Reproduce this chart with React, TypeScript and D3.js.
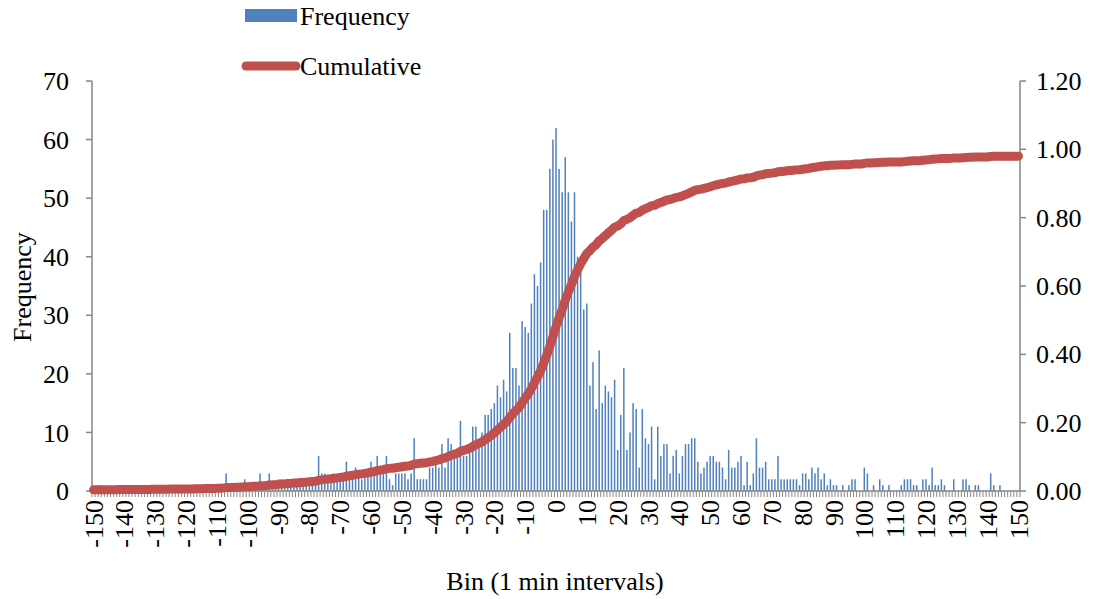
import React from 'react';
import * as d3 from 'd3';

// Category bins (1 minute intervals)
const BINS: number[] = d3.range(-150, 151);

// Frequency per bin, -150 … 150
const FREQUENCY: number[] = [
  // -150 .. -101
  0, 0, 1, 0, 0, 0, 0, 0, 1, 0,
  0, 0, 1, 0, 0, 0, 0, 0, 0, 1,
  0, 0, 0, 0, 0, 1, 0, 0, 0, 0,
  1, 0, 0, 1, 0, 0, 1, 0, 1, 0,
  1, 0, 1, 3, 0, 1, 1, 0, 1, 2,
  // -100 .. -51
  1, 1, 1, 0, 3, 1, 1, 3, 1, 1,
  2, 2, 1, 2, 1, 2, 1, 2, 1, 2,
  2, 2, 1, 6, 3, 3, 2, 2, 3, 2,
  3, 2, 5, 3, 3, 4, 3, 2, 3, 3,
  5, 3, 6, 3, 3, 6, 2, 1, 3, 3,
  // -50 .. -1
  3, 3, 2, 3, 9, 2, 2, 2, 2, 4,
  4, 5, 4, 8, 4, 9, 8, 6, 6, 12,
  6, 6, 7, 11, 11, 8, 10, 13, 13, 14,
  15, 18, 16, 19, 17, 27, 21, 21, 18, 29,
  28, 27, 32, 37, 35, 39, 48, 48, 55, 60,
  // 0 .. 49
  62, 55, 51, 57, 51, 46, 51, 40, 38, 31,
  32, 18, 22, 14, 24, 15, 18, 17, 16, 19,
  7, 13, 21, 7, 10, 15, 14, 4, 14, 9,
  8, 11, 2, 11, 6, 8, 8, 3, 6, 7,
  3, 6, 8, 8, 9, 9, 5, 3, 4, 5,
  // 50 .. 99
  6, 6, 5, 5, 4, 2, 7, 4, 4, 5,
  6, 1, 5, 1, 3, 9, 4, 4, 5, 2,
  2, 2, 6, 2, 2, 2, 2, 2, 2, 1,
  3, 3, 2, 4, 3, 4, 2, 3, 1, 2,
  1, 1, 0, 1, 0, 1, 2, 2, 0, 0,
  // 100 .. 150
  4, 3, 0, 1, 0, 2, 1, 0, 1, 0,
  0, 0, 1, 2, 2, 2, 1, 1, 0, 2,
  2, 1, 4, 1, 1, 2, 1, 0, 0, 2,
  0, 0, 2, 2, 1, 0, 1, 1, 0, 0,
  0, 3, 1, 0, 1, 0, 0, 0, 0, 0, 0,
];

// Observations below the first bin and total observation count (for cumulative share)
const COUNT_BELOW_RANGE = 7;
const TOTAL_COUNT = 2112;

const LEFT_TICKS: number[] = [0, 10, 20, 30, 40, 50, 60, 70];
const RIGHT_TICKS: number[] = [0, 0.2, 0.4, 0.6, 0.8, 1.0, 1.2];
const X_LABELS: number[] = [-150, -140, -130, -120, -110, -100, -90, -80, -70, -60, -50, -40, -30, -20, -10, 0, 10, 20, 30, 40, 50, 60, 70, 80, 90, 100, 110, 120, 130, 140, 150];

const FONT = '"Liberation Serif", "Times New Roman", serif';
const AXIS = '#868686';
const BLUE = '#4F81BD';
const RED = '#C0504D';

export default function App() {
  const W = 1097;
  const H = 599;
  const left = 92;
  const right = 1020;
  const top = 81;
  const bottom = 491;

  const x = d3.scaleBand<number>().domain(BINS).range([left, right]).padding(0);
  const cx = (b: number) => (x(b) as number) + x.bandwidth() / 2;
  const yL = d3.scaleLinear().domain([0, 70]).range([bottom, top]);
  const yR = d3.scaleLinear().domain([0, 1.2]).range([bottom, top]);

  let running = COUNT_BELOW_RANGE;
  const cumulative = FREQUENCY.map((f) => {
    running += f;
    return running / TOTAL_COUNT;
  });

  const line = d3
    .line<number>()
    .x((_, i) => cx(BINS[i]))
    .y((d) => yR(d))
    .curve(d3.curveLinear);

  const barW = 1.5;
  const boundaries = BINS.map((b) => x(b) as number).concat([right]);

  return (
    <svg
      width={W}
      height={H}
      style={{ position: 'absolute', left: 0, top: 0, background: '#fff' }}
      fontFamily={FONT}
    >
      <rect x={0} y={0} width={W} height={H} fill="#fff" />

      {/* bars */}
      <g>
        {FREQUENCY.map((f, i) =>
          f > 0 ? (
            <rect
              key={i}
              x={cx(BINS[i]) - barW / 2}
              y={yL(f)}
              width={barW}
              height={bottom - yL(f)}
              fill={BLUE}
            />
          ) : null
        )}
      </g>

      {/* axes */}
      <line x1={left} x2={left} y1={top} y2={bottom} stroke={AXIS} strokeWidth={1.5} />
      <line x1={right} x2={right} y1={top} y2={bottom} stroke={AXIS} strokeWidth={1.5} />
      {LEFT_TICKS.map((t) => (
        <g key={'l' + t}>
          <line x1={left - 6} x2={left} y1={yL(t)} y2={yL(t)} stroke={AXIS} strokeWidth={1.5} />
          <text x={69} y={yL(t)} dy="0.35em" textAnchor="end" fontSize={26} fill="#000">
            {t}
          </text>
        </g>
      ))}
      {RIGHT_TICKS.map((t) => (
        <g key={'r' + t}>
          <line x1={right} x2={right + 6} y1={yR(t)} y2={yR(t)} stroke={AXIS} strokeWidth={1.5} />
          <text x={1036} y={yR(t)} dy="0.35em" textAnchor="start" fontSize={26} fill="#000">
            {t.toFixed(2)}
          </text>
        </g>
      ))}
      {boundaries.map((bx, i) => (
        <line key={'t' + i} x1={bx} x2={bx} y1={bottom} y2={bottom + 6} stroke={AXIS} strokeWidth={1} />
      ))}
      <line x1={left} x2={right} y1={bottom} y2={bottom} stroke={AXIS} strokeWidth={1.5} />
      {X_LABELS.map((b) => (
        <text
          key={'x' + b}
          transform={`translate(${cx(b)},${bottom + 9}) rotate(-90)`}
          dy="0.35em"
          textAnchor="end"
          fontSize={26}
          fill="#000"
        >
          {b}
        </text>
      ))}

      {/* cumulative line */}
      <path
        d={line(cumulative) || ''}
        fill="none"
        stroke={RED}
        strokeWidth={9}
        strokeLinecap="round"
        strokeLinejoin="round"
      />

      {/* titles */}
      <text x={555} y={581} dy="0.35em" textAnchor="middle" fontSize={26} fill="#000">
        Bin (1 min intervals)
      </text>
      <text transform="translate(22,287) rotate(-90)" dy="0.35em" textAnchor="middle" fontSize={26} fill="#000">
        Frequency
      </text>

      {/* legend */}
      <rect x={245} y={9} width={52} height={13} fill={BLUE} />
      <text x={300} y={16} dy="0.35em" fontSize={26} fill="#000">
        Frequency
      </text>
      <line x1={246} x2={296} y1={66} y2={66} stroke={RED} strokeWidth={9} strokeLinecap="round" />
      <text x={300} y={66} dy="0.35em" fontSize={26} fill="#000">
        Cumulative
      </text>
    </svg>
  );
}
